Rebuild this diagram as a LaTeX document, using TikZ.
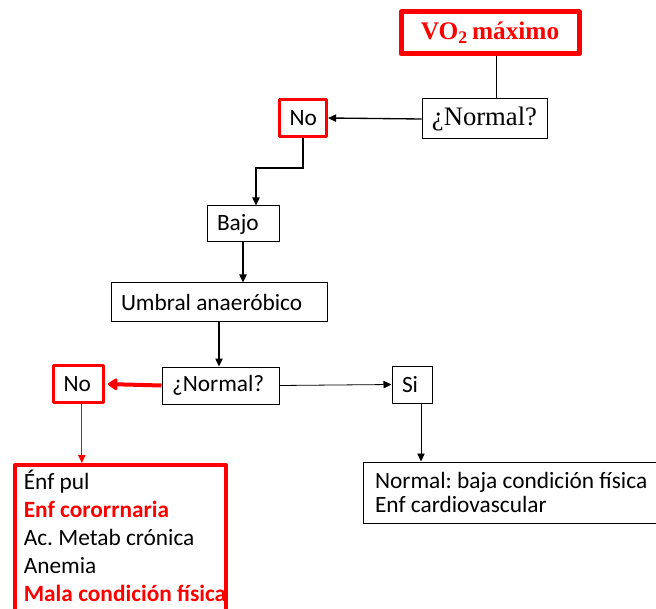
\documentclass[tikz,border=0pt]{standalone}
\usepackage{fontspec}
\setmainfont{Liberation Serif}
\setsansfont{Carlito}
\usepackage{xcolor}
\usetikzlibrary{arrows.meta}
\definecolor{vred}{RGB}{255,0,0}
\frenchspacing
\tikzset{
  box/.style={draw, line width=0.75pt, inner sep=0pt, font=\sffamily\fontsize{17.5}{21}\selectfont},
  redbox/.style={box, draw=vred, line width=2.4pt, line join=round},
  lbox/.style={text width=#1, align=flush left, inner xsep=7.5pt},
  arr/.style={-{Triangle[length=6pt,width=5.5pt]}, line width=1pt},
}

\begin{document}
\begin{tikzpicture}[x=0.75pt,y=0.75pt,yscale=-1,xscale=1]
\useasboundingbox (0,0) rectangle (656,609);

% Text Node
\node (vo) at (490,33) [box, draw=vred, line width=3.75pt, line join=round, minimum width=133.5pt, minimum height=31.5pt, font=\bfseries\fontsize{19}{22}\selectfont, text=vred] {VO\textsubscript{2}\,máximo};
% Text Node
\node (normA) at (484.5,119) [box, minimum width=93.75pt, minimum height=30pt, font=\rmfamily\fontsize{20}{22}\selectfont] {¿Normal?};
% Text Node
\node (noA) at (303,118) [redbox, lbox=20.25pt, minimum height=27.75pt] {No};
% Text Node
\node (bajo) at (243,224) [box, lbox=39pt, minimum height=27pt] {Bajo};
% Text Node
\node (umbral) at (219,302) [box, lbox=147pt, minimum height=28.5pt] {Umbral anaeróbico};
% Text Node
\node (normB) at (220.5,385.5) [box, lbox=72.75pt, minimum height=27.75pt] {¿Normal?};
% Text Node
\node (noB) at (78.5,384) [redbox, line width=2.6pt, lbox=22.5pt, minimum height=27.75pt] {No};
% Text Node
\node (si) at (412,384.5) [box, lbox=15pt, minimum height=27.75pt] {Si};
% Text Node
\node (lista) at (120.5,538.5) [redbox, line width=3.2pt, minimum width=158.25pt, minimum height=110pt] {};
\node (listatxt) [anchor=north west, inner sep=0pt, align=left, font=\sffamily\fontsize{17.5}{21}\selectfont] at ([shift={(8pt,5pt)}]lista.north west)
  {Énf pul\\ \textcolor{vred}{\bfseries Enf cororrnaria}\\ Ac. Metab crónica\\ Anemia\\ \textcolor{vred}{\bfseries Mala condición física}};
% Text Node
\node (normal) at (511.5,492.5) [box, lbox=204.75pt, inner xsep=9pt, minimum height=45.75pt, font=\sffamily\fontsize{17.5}{18}\selectfont] {Normal: baja condición física\\ Enf cardiovascular};

%Straight Lines
\coordinate (codo) at (256,168);
\draw [line width=0.75pt] ([xshift=5pt]vo.south) -- ([xshift=5pt]vo.south |- normA.north);
\draw [arr] (normA.west) -- (noA.east);
\draw [arr] (noA.south) |- (codo) -- (codo |- bajo.north);
\draw [arr] (bajo.south) -- (bajo.south |- umbral.north);
\draw [arr] (umbral.south) -- (umbral.south |- normB.north);
\draw [vred, line width=3pt, -{Triangle[length=8pt,width=10pt,round]}, shorten >=2pt] (normB.west) -- (noB.east);
\draw [vred, line width=0.8pt, -{Triangle[length=6pt,width=5.5pt]}] ([xshift=2.5pt]noB.south) -- ([xshift=2.5pt]noB.south |- lista.north);
\draw [-{Triangle[length=6pt,width=5.5pt]}, line width=0.6pt] (normB.east) -- (si.west);
\draw [-{Triangle[length=6pt,width=5.5pt]}, line width=0.6pt] ([xshift=6.75pt]si.south) -- ([xshift=6.75pt]si.south |- normal.north);

\end{tikzpicture}
\end{document}
